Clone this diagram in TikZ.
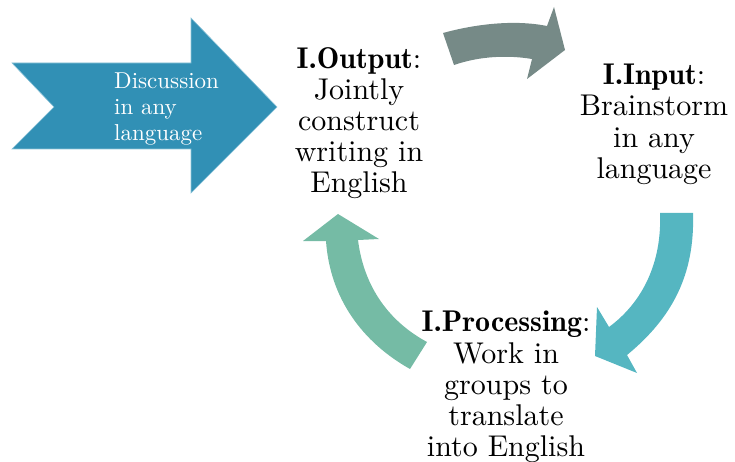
\documentclass[tikz,border=0pt]{standalone}
\usepackage{fontspec}
\setmainfont{lmroman10-regular}[Extension=.otf, BoldFont=lmromandemi10-regular]

\definecolor{discblue}{HTML}{3190B5}
\definecolor{discedge}{HTML}{8CC3D8}
\definecolor{cyclegrey}{HTML}{768A87}
\definecolor{cycleteal}{HTML}{55B6C1}
\definecolor{cyclegreen}{HTML}{75BBA5}

\tikzset{
  stagetext/.style={font=\fontsize{30}{31.2}\selectfont, align=center,
    inner sep=0pt, anchor=north, text=black},
  disctext/.style={font=\fontsize{23}{26}\selectfont, align=left,
    inner sep=0pt, anchor=north west, text=white},
  blockarrow/.style={draw=none}
}

\begin{document}
\begin{tikzpicture}[x=1pt,y=-1pt]
  \useasboundingbox (0,0) rectangle (735,462);

  % big notched arrow on the left
  \filldraw[fill=discblue, draw=discedge, line width=0.6pt, line join=miter]
    (12,63) -- (191,63) -- (191,18) -- (277,107) -- (191,193)
    -- (191,149) -- (12,149) -- (54,107) -- cycle;

  % curved arrow: output -> input
  \fill[cyclegrey, blockarrow]
    (443,33) .. controls (472,25) and (512,19) .. (547,26)
    -- (554,7) -- (565,50) -- (527,79) -- (532,59)
    .. controls (508,55) and (480,56) .. (454,65) -- cycle;

  % curved arrow: input -> processing
  \fill[cycleteal, blockarrow]
    (660,213) -- (693,213)
    .. controls (695,275) and (672,318) .. (627,355)
    -- (637,373) -- (595,356) -- (597,307) -- (609,327)
    .. controls (643,302) and (662,262) .. (660,213) -- cycle;

  % curved arrow: processing -> output
  \fill[cyclegreen, blockarrow]
    (338,214) -- (379,239) -- (358,240)
    .. controls (364,288) and (390,322) .. (427,342)
    -- (410,369)
    .. controls (362,342) and (330,298) .. (326,241)
    -- (303,241) -- cycle;

  % texts
  \node[disctext] (disc) at (114,73) {Discussion\\in any\\language};
  \node[stagetext] (out) at (359,47)
    {\textbf{I.Output}:\\Jointly\\construct\\writing in\\English};
  \node[stagetext] (inp) at (654,64)
    {\textbf{I.Input}:\\Brainstorm\\in any\\language};
  \node[stagetext] (proc) at (506,311)
    {\textbf{I.Processing}:\\Work in\\groups to\\translate\\into English};
\end{tikzpicture}
\end{document}
